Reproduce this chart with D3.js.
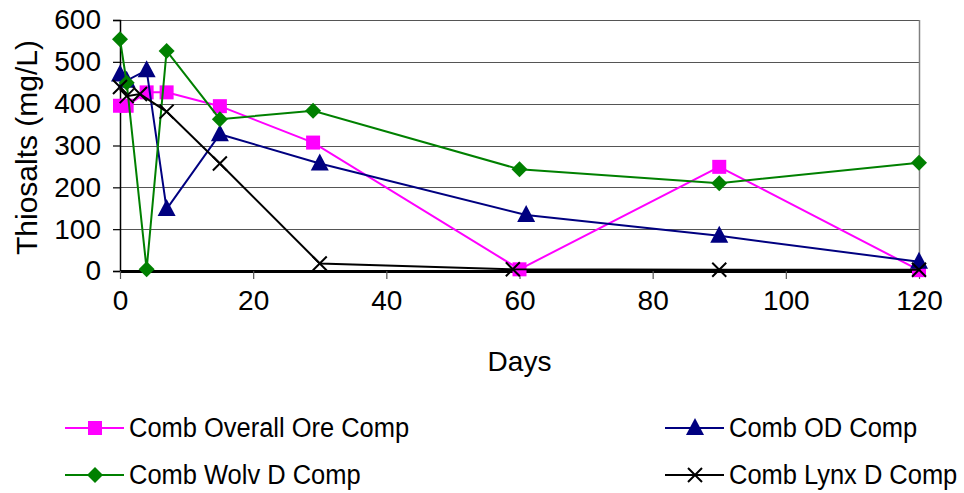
<!DOCTYPE html>
<html>
<head>
<meta charset="utf-8">
<script src="https://d3js.org/d3.v7.min.js"></script>
<style>
    body { margin: 0; background: #fff; }
    svg { display: block; font-family: 'Liberation Sans', Arial, sans-serif; }
</style>
</head>
<body>
<div id="chart"></div>
<script>
'use strict';

// Values
var oreDays = [0, 1, 4, 7, 15, 29, 60, 90, 120];
var oreValues = [395, 395, 427, 427, 394, 307, 4, 249, 2];

var odDays = [0, 1, 4, 7, 15, 30, 61, 90, 120];
var odValues = [470, 455, 480, 148, 327, 257, 134, 84, 22];

var wolvDays = [0, 1, 4, 7, 15, 29, 60, 90, 120];
var wolvValues = [554, 450, 4, 526, 363, 383, 243, 210, 259];

var lynxDays = [0, 1, 3, 7, 15, 30, 59, 90, 120];
var lynxValues = [440, 418, 423, 381, 257, 18, 4, 3, 3];

var seriesNames = ['Comb Overall Ore Comp', 'Comb OD Comp', 'Comb Wolv D Comp', 'Comb Lynx D Comp'];
var xTicks = [0, 20, 40, 60, 80, 100, 120];
var yTicks = [0, 100, 200, 300, 400, 500, 600];

function zip(days, values) {
    return days.map(function (d, i) {
        return { day: d, value: values[i] };
    });
}

var series = [
    { name: seriesNames[0], color: '#ff00ff', marker: 'square', points: zip(oreDays, oreValues) },
    { name: seriesNames[1], color: '#000080', marker: 'triangle', points: zip(odDays, odValues) },
    { name: seriesNames[2], color: '#008000', marker: 'diamond', points: zip(wolvDays, wolvValues) },
    { name: seriesNames[3], color: '#000000', marker: 'cross', points: zip(lynxDays, lynxValues) }
];

var width = 964;
var height = 493;
var plot = { left: 120, right: 919, top: 20, bottom: 271 };

var svg = d3.select('#chart')
    .append('svg')
    .attr('width', width)
    .attr('height', height);

var x = d3.scaleLinear().domain([0, 120]).range([plot.left, plot.right]);
var y = d3.scaleLinear().domain([0, 600]).range([plot.bottom, plot.top]);

// horizontal grid lines
svg.append('g')
    .selectAll('line')
    .data(yTicks.filter(function (d) { return d > 0; }))
    .enter()
    .append('line')
    .attr('x1', plot.left)
    .attr('x2', plot.right)
    .attr('y1', function (d) { return Math.round(y(d)) + 0.5; })
    .attr('y2', function (d) { return Math.round(y(d)) + 0.5; })
    .style('stroke', '#555555')
    .style('stroke-width', 1.2);

// right border
svg.append('line')
    .attr('x1', plot.right + 0.5)
    .attr('x2', plot.right + 0.5)
    .attr('y1', plot.top)
    .attr('y2', plot.bottom)
    .style('stroke', '#808080')
    .style('stroke-width', 1.5);

// y axis
var yAxis = svg.append('g')
    .attr('transform', 'translate(' + plot.left + ',0)')
    .call(d3.axisLeft(y).tickValues(yTicks).tickSize(7).tickPadding(12));
yAxis.select('.domain').style('stroke', '#000').style('stroke-width', 1.5);
yAxis.selectAll('.tick line').style('stroke', '#000').style('stroke-width', 1.2);
yAxis.selectAll('.tick text')
    .style('font-size', '28px')
    .style('font-family', "'Liberation Sans', Arial, sans-serif")
    .attr('fill', '#000');

// x axis
var xAxis = svg.append('g')
    .attr('transform', 'translate(0,' + plot.bottom + ')')
    .call(d3.axisBottom(x).tickValues(xTicks).tickSize(8).tickPadding(11).tickSizeOuter(0));
xAxis.select('.domain').style('stroke', '#000').style('stroke-width', 3);
xAxis.selectAll('.tick line').style('stroke', '#555').style('stroke-width', 1.2);
xAxis.selectAll('.tick text')
    .style('font-size', '28px')
    .style('font-family', "'Liberation Sans', Arial, sans-serif")
    .attr('fill', '#000');

// axis titles
svg.append('text')
    .attr('x', (plot.left + plot.right) / 2)
    .attr('y', 371)
    .attr('text-anchor', 'middle')
    .style('font-size', '28px')
    .text('Days');

svg.append('text')
    .attr('transform', 'translate(37,' + ((plot.top + plot.bottom) / 2 + 2) + ') rotate(-90)')
    .attr('text-anchor', 'middle')
    .style('font-size', '30px')
    .text('Thiosalts (mg/L)');

// markers
function drawMarker(g, type, color) {
    if (type === 'square') {
        g.append('rect')
            .attr('x', -7).attr('y', -7)
            .attr('width', 14).attr('height', 14)
            .attr('fill', color);
    } else if (type === 'triangle') {
        g.append('path')
            .attr('d', 'M0,-10L9,7L-9,7Z')
            .attr('fill', color);
    } else if (type === 'diamond') {
        g.append('path')
            .attr('d', 'M0,-8L8,0L0,8L-8,0Z')
            .attr('fill', color);
    } else {
        g.append('path')
            .attr('d', 'M-7,-7L7,7M-7,7L7,-7')
            .attr('stroke', color)
            .attr('stroke-width', 2);
    }
}

var line = d3.line()
    .x(function (d) { return x(d.day); })
    .y(function (d) { return y(d.value); });

series.forEach(function (s) {
    var g = svg.append('g');
    g.append('path')
        .datum(s.points)
        .attr('d', line)
        .attr('fill', 'none')
        .attr('stroke', s.color)
        .attr('stroke-width', 2);
    g.selectAll('.marker')
        .data(s.points)
        .enter()
        .append('g')
        .attr('class', 'marker')
        .attr('transform', function (d) { return 'translate(' + x(d.day) + ',' + y(d.value) + ')'; })
        .each(function () {
            drawMarker(d3.select(this), s.marker, s.color);
        });
});

// legend
var legendPos = [
    { lx: 65, ly: 428 },
    { lx: 665, ly: 428 },
    { lx: 65, ly: 475 },
    { lx: 665, ly: 475 }
];

series.forEach(function (s, i) {
    var p = legendPos[i];
    var g = svg.append('g')
        .attr('transform', 'translate(' + p.lx + ',' + p.ly + ')');
    g.append('line')
        .attr('x1', 0).attr('x2', 59)
        .attr('y1', 0).attr('y2', 0)
        .attr('stroke', s.color)
        .attr('stroke-width', 2);
    var m = g.append('g').attr('transform', 'translate(30,0)');
    drawMarker(m, s.marker, s.color);
    g.append('text')
        .attr('transform', 'translate(64,9) scale(0.91,1)')
        .style('font-size', '28px')
        .text(s.name);
});
</script>
</body>
</html>
